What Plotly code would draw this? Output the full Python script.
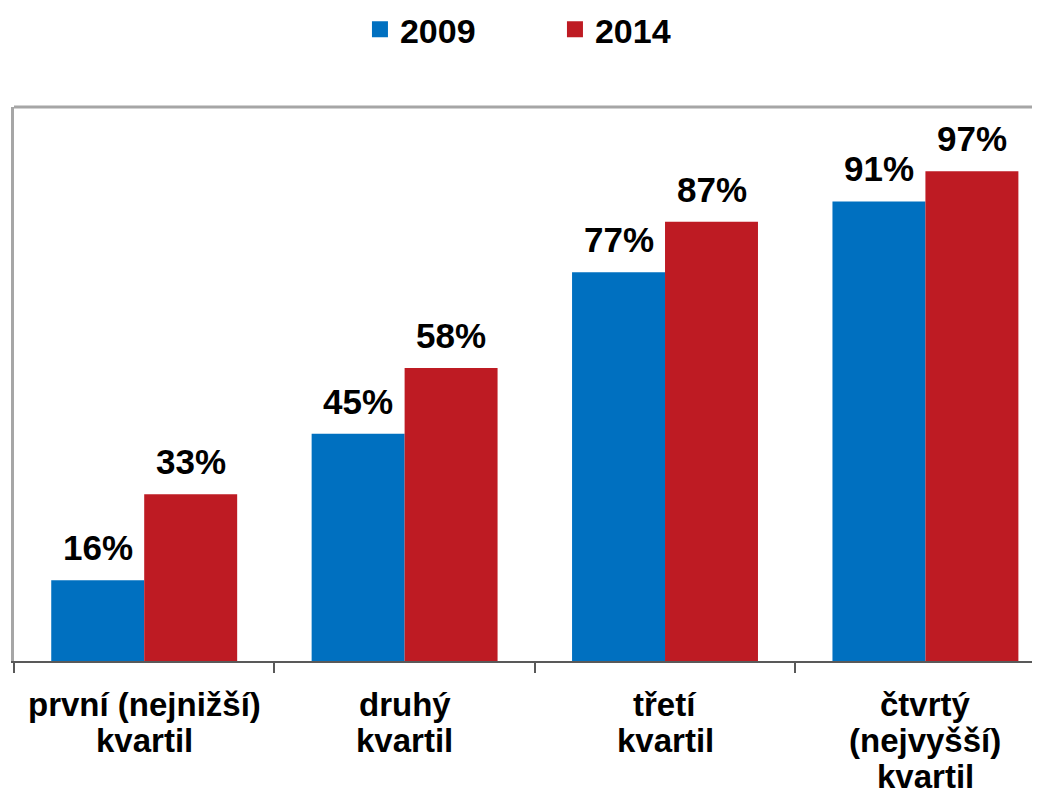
import plotly.graph_objects as go

categories = ["první (nejnižší)\nkvartil", "druhý\nkvartil", "třetí\nkvartil", "čtvrtý\n(nejvyšší)\nkvartil"]
series_names = ["2009", "2014"]
values_2009 = [16, 45, 77, 91]
values_2014 = [33, 58, 87, 97]
colors = ["#0070C0", "#BE1B23"]

FONT = "Liberation Sans, Arial, sans-serif"
BARGAP = 0.286
x_idx = list(range(len(categories)))
series = [values_2009, values_2014]

fig = go.Figure()
for name, vals, col in zip(series_names, series, colors):
    fig.add_trace(go.Bar(
        x=x_idx, y=vals, name=name, marker=dict(color=col, line=dict(width=0)),
        showlegend=False,
    ))
    # legend entry with a larger square symbol
    fig.add_trace(go.Scatter(
        x=[None], y=[None], mode="markers", name=name,
        marker=dict(symbol="square", size=19, color=col),
    ))

# value labels above bars (offset within group derived from bar gap)
n = len(series)
bw = (1 - BARGAP) / n
for k, vals in enumerate(series):
    off = -(1 - BARGAP) / 2 + bw * (k + 0.5)
    for i, v in zip(x_idx, vals):
        fig.add_annotation(
            x=i + off, y=v, xref="x", yref="y", text=f"{v}%", showarrow=False,
            xanchor="center", yanchor="bottom", yshift=11,
            font=dict(family=FONT, size=35, color="black", weight="bold"),
        )

# category labels, one annotation per line for tighter line spacing
for i, lab in enumerate(categories):
    for j, line in enumerate(lab.split("\n")):
        fig.add_annotation(
            x=i, y=0, xref="x", yref="y", text=line, showarrow=False,
            yanchor="middle", xanchor="center", yshift=-43 - 36 * j,
            font=dict(family=FONT, size=33, color="black", weight="bold"),
        )

# top frame line
fig.add_shape(type="line", xref="paper", yref="paper", x0=0, x1=1, y0=1, y1=1,
              line=dict(color="#A6A6A6", width=3))

boundaries = [i - 0.5 for i in x_idx]

fig.update_layout(
    width=1032, height=791,
    margin=dict(l=6, r=0, t=99, b=138),
    paper_bgcolor="white", plot_bgcolor="white",
    barmode="group", bargap=BARGAP, bargroupgap=0,
    legend=dict(orientation="h", xref="container", x=0.53, xanchor="center",
                yref="container", y=0.9725, yanchor="middle",
                font=dict(family=FONT, size=34, color="black", weight="bold"),
                entrywidth=150, itemsizing="trace"),
    xaxis=dict(range=[-0.5, 3.44], tickmode="array", tickvals=boundaries,
               ticktext=["" for _ in boundaries],
               ticks="outside", ticklen=10, tickwidth=2, tickcolor="#595959",
               showline=True, linecolor="#595959", linewidth=2,
               showgrid=False, zeroline=False, fixedrange=True),
    yaxis=dict(range=[0, 109.7], showticklabels=False, ticks="",
               showline=True, linecolor="#A6A6A6", linewidth=3,
               showgrid=False, zeroline=False),
)

fig.write_html("out.html")
